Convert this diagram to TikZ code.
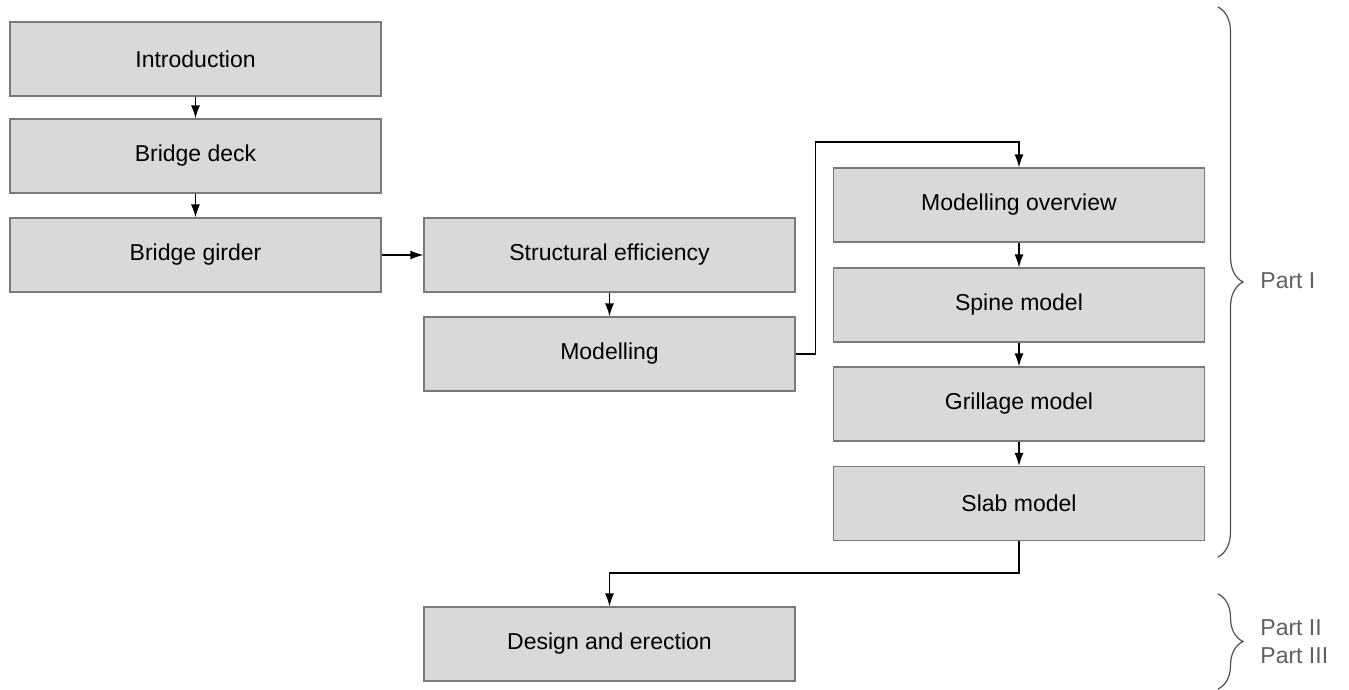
\documentclass[tikz,border=0pt]{standalone}
\usepackage{fontspec}
\setmainfont{Liberation Sans}
\usetikzlibrary{arrows.meta,decorations.pathreplacing}
\definecolor{boxfill}{HTML}{D9D9D9}
\definecolor{boxline}{HTML}{7A7A7A}
\definecolor{bracecol}{HTML}{505050}
\definecolor{labelcol}{HTML}{606060}
\begin{document}
\begin{tikzpicture}[x=0.5pt,y=-0.5pt,
  stepbox/.style={draw=boxline,fill=boxfill,line width=0.6pt,minimum width=185.5pt,minimum height=37pt,inner sep=0pt,font=\fontsize{11.5}{13}\selectfont},
  conn/.style={draw=black,line width=0.65pt,-{Latex[length=6.5pt,width=4.5pt]}},
  partbrace/.style={draw=bracecol,line width=0.6pt,decorate,decoration={brace,amplitude=12.5pt}},
  partlabel/.style={text=labelcol,anchor=west,inner sep=0pt,font=\fontsize{11.5}{13}\selectfont}]
\useasboundingbox (0,0) rectangle (1349,690);
\node[stepbox] (intro) at (195.5,59) {Introduction};
\node[stepbox] (deck) at (195.5,156) {Bridge deck};
\node[stepbox] (girder) at (195.5,255) {Bridge girder};
\node[stepbox] (struct) at (609.5,255) {Structural efficiency};
\node[stepbox] (model) at (609.5,354) {Modelling};
\node[stepbox] (over) at (1019,205) {Modelling overview};
\node[stepbox] (spine) at (1019,305) {Spine model};
\node[stepbox] (grill) at (1019,404) {Grillage model};
\node[stepbox] (slab) at (1019,503.5) {Slab model};
\node[stepbox] (design) at (609.5,644) {Design and erection};
\draw[conn] (intro) -- (deck);
\draw[conn] (deck) -- (girder);
\draw[conn] (girder) -- (struct);
\draw[conn] (struct) -- (model);
\draw[conn] (model.east) -- ++(20,0) |- (1019,142) -- (over.north);
\draw[conn] (over) -- (spine);
\draw[conn] (spine) -- (grill);
\draw[conn] (grill) -- (slab);
\draw[conn] (slab.south) -- ++(0,32) -| (design.north);
\coordinate (b1a) at (1218,7);
\coordinate (b1b) at (1218,557);
\coordinate (b2a) at (1218,594);
\coordinate (b2b) at (1218,689);
\draw[partbrace] (b1a) -- (b1b);
\draw[partbrace] (b2a) -- (b2b);
\node[partlabel] (p1) at (1260,281) {Part I};
\node[partlabel] (p2) at (1260,628) {Part II};
\node[partlabel] (p3) at (1260,656) {Part III};
\end{tikzpicture}
\end{document}
